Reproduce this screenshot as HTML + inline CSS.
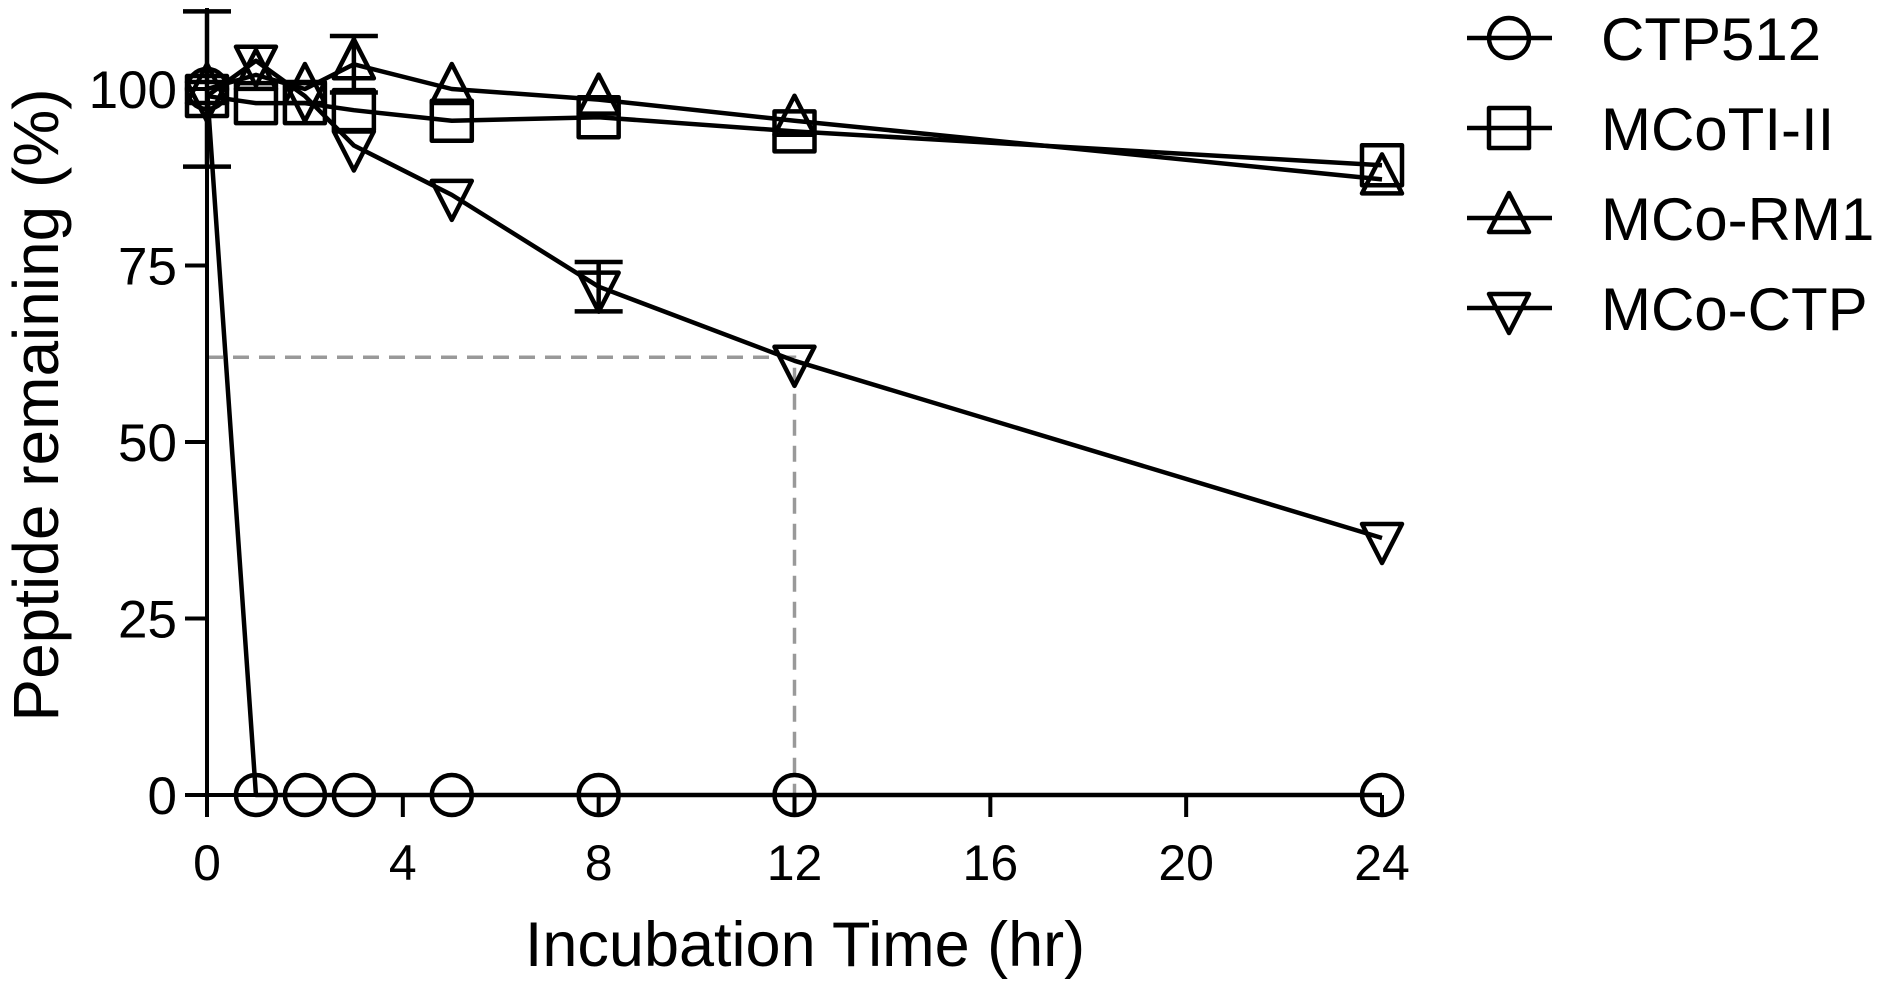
<!DOCTYPE html>
<html><head><meta charset="utf-8"><style>
html,body{margin:0;padding:0;background:#fff;}
svg{display:block;font-family:"Liberation Sans",Arial,sans-serif;}
</style></head><body>
<svg id="chart" width="1890" height="991" viewBox="0 0 1890 991"></svg>
<script>
const times = [0, 1, 2, 3, 5, 8, 12, 24];
const ctp512 = [100, 0, 0, 0, 0, 0, 0, 0];
const mcoti = [99, 98, 98, 97, 95.5, 96, 94, 89.2];
const mcorm1 = [100, 102, 100, 103.5, 100, 98.5, 95.5, 87.2];
const mcoctp = [99, 104, 99, 92, 85, 72, 61.5, 36.4];
const xTicks = [0, 4, 8, 12, 16, 20, 24];
const yTicks = [0, 25, 50, 75, 100];
const seriesNames = ["CTP512", "MCoTI-II", "MCo-RM1", "MCo-CTP"];
const errCtp512 = [11, 0, 0, 0, 0, 0, 0, 0];
const errRm1 = [0, 0, 0, 4, 0, 0, 0, 0];
const errCtp = [0, 0, 0, 0, 0, 3.5, 0, 0];
const halfLife = 62;

const NS = "http://www.w3.org/2000/svg";
const svg = document.getElementById("chart");
const X0 = 207, X1 = 1382, Y0 = 795, Y100 = 89;
function xs(t){ return X0 + (X1 - X0) * t / 24; }
function ys(v){ return Y0 + (Y100 - Y0) * v / 100; }
function mk(tag, attrs, parent){
  const e = document.createElementNS(NS, tag);
  for (const k in attrs) e.setAttribute(k, attrs[k]);
  (parent || svg).appendChild(e);
  return e;
}
const S = "#000", LW = 4.5;

let g = mk("polyline", {points: `${xs(0)},${ys(halfLife)} ${xs(12)},${ys(halfLife)} ${xs(12)},${ys(0)}`, fill:"none", stroke:"#999", "stroke-width":3.5, "stroke-dasharray":"16,10"});



let ax = mk("line", {x1:X0, y1:8, x2:X0, y2:Y0+22, stroke:S, "stroke-width":4});


let axx = mk("line", {x1:X0-20, y1:Y0, x2:X1, y2:Y0, stroke:S, "stroke-width":4});



xTicks.forEach(t => {
  const l = mk("line", {x1:xs(t), y1:Y0, x2:xs(t), y2:Y0+22, stroke:S, "stroke-width":4});
  
  
  const tx = mk("text", {x:xs(t), y:880, "text-anchor":"middle", "font-size":50});
  tx.textContent = t;
  
  
});
yTicks.forEach(v => {
  const l = mk("line", {x1:X0-22, y1:ys(v), x2:X0, y2:ys(v), stroke:S, "stroke-width":4});
  
  
  const tx = mk("text", {x:X0-30, y:ys(v)+19, "text-anchor":"end", "font-size":53});
  tx.textContent = v;
  
  
});

let xt = mk("text", {x:805, y:966, "text-anchor":"middle", "font-size":63});
xt.textContent = "Incubation Time (hr)";


let yt = mk("text", {x:0, y:0, "text-anchor":"middle", "font-size":64, transform:"translate(58,405) rotate(-90)"});
yt.textContent = "Peptide remaining (%)";



function marker(type, x, y, parent){
  let e;
  if (type === 0) e = mk("circle", {cx:x, cy:y, r:20, fill:"none", stroke:S, "stroke-width":LW}, parent);
  else if (type === 1) e = mk("rect", {x:x-20, y:y-20, width:40, height:40, fill:"none", stroke:S, "stroke-width":LW, "stroke-linejoin":"round"}, parent);
  else if (type === 2) e = mk("polygon", {points:`${x},${y-25} ${x-20},${y+14} ${x+20},${y+14}`, fill:"none", stroke:S, "stroke-width":LW, "stroke-linejoin":"round"}, parent);
  else e = mk("polygon", {points:`${x},${y+25} ${x-20},${y-14} ${x+20},${y-14}`, fill:"none", stroke:S, "stroke-width":LW, "stroke-linejoin":"round"}, parent);
  return e;
}
function errbars(vals, errs, parent){
  errs.forEach((e, i) => {
    if (!e) return;
    const x = xs(times[i]);
    const a = ys(vals[i]+e), b = ys(vals[i]-e);
    const eb = mk("path", {d:`M${x},${a}V${b}M${x-24},${a}H${x+24}M${x-24},${b}H${x+24}`, stroke:S, "stroke-width":LW, fill:"none"}, parent);
    
    
  });
}
const allSeries = [ctp512, mcoti, mcorm1, mcoctp];
const allErr = [errCtp512, null, errRm1, errCtp];
allSeries.forEach((vals, si) => {
  const grp = mk("g", {});
  
  
  const pl = mk("polyline", {points: vals.map((v,i)=>`${xs(times[i])},${ys(v)}`).join(" "), fill:"none", stroke:S, "stroke-width":LW, "stroke-linejoin":"round"}, grp);
  
  
  if (allErr[si]) errbars(vals, allErr[si], grp);
  vals.forEach((v, i) => {
    const m = marker(si, xs(times[i]), ys(v), grp);
    
    
  });
});

seriesNames.forEach((n, i) => {
  const y = 38 + i * 90;
  const lg = mk("g", {});
  
  
  mk("line", {x1:1467, y1:y, x2:1552, y2:y, stroke:S, "stroke-width":LW}, lg);
  marker(i, 1509, y, lg);
  const t = mk("text", {x:1601, y:y+22, "font-size":60}, lg);
  t.textContent = n;
});
</script>
</body></html>
